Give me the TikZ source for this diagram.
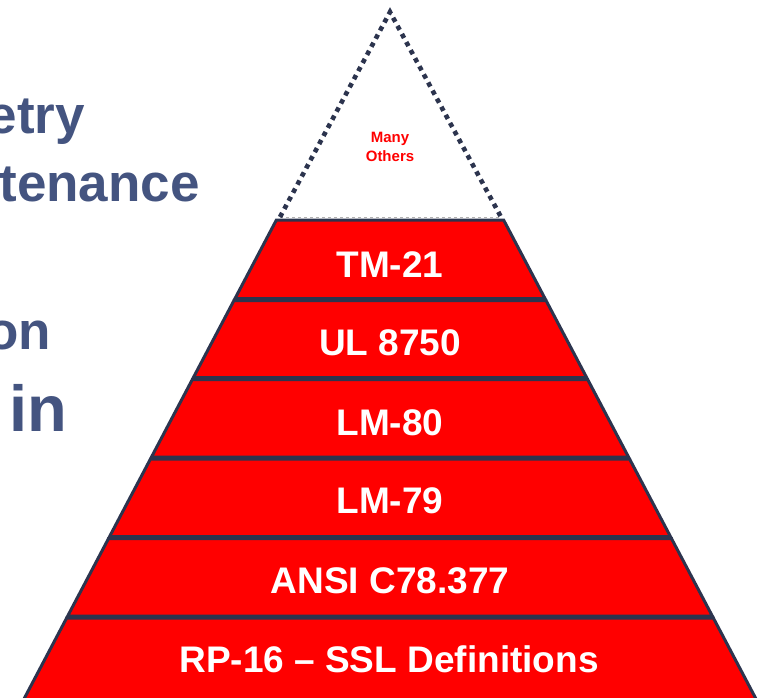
\documentclass[tikz,border=0pt]{standalone}
\usepackage{fontspec}
\setmainfont{Liberation Sans}
\definecolor{navy}{RGB}{44,52,78}
\definecolor{tierred}{RGB}{255,0,0}
\definecolor{slate}{RGB}{68,84,128}
\begin{document}
\begin{tikzpicture}[x=1pt,y=-1pt,
  tier/.style={fill=tierred, draw=navy, line width=3pt, line join=miter},
  tierlabel/.style={text=white, inner sep=0pt, anchor=base,
    font=\bfseries\fontsize{37}{37}\selectfont},
  toplabel/.style={text=tierred, inner sep=0pt, anchor=base,
    font=\bfseries\fontsize{15}{18}\selectfont},
  sidetext/.style={text=slate, inner sep=0pt, anchor=base east},
  dotted edge/.style={draw=navy, line width=4.6pt, line cap=butt,
    dash pattern=on 4.6pt off 4.6pt}]
\useasboundingbox (0,0) rectangle (759,697);
\clip (0,0) rectangle (759,697);

% heading words running in from the left
\node[sidetext, font=\bfseries\fontsize{53}{53}\selectfont] (w1) at (85,133) {etry};
\node[sidetext, font=\bfseries\fontsize{53}{53}\selectfont] (w2) at (200,201) {tenance};
\node[sidetext, font=\bfseries\fontsize{53}{53}\selectfont] (w3) at (51.5,349) {on};
\node[sidetext, font=\bfseries\fontsize{65}{65}\selectfont] (w4) at (67.5,431) {in};

% open apex of the pyramid
\coordinate (apex) at (390,12);
\coordinate (bl) at (280,217);
\coordinate (br) at (501,217);
\draw[gray!60, line width=0.8pt, dash pattern=on 3pt off 3pt] (bl) -- (br);
\draw[dotted edge] (bl) -- (apex) -- (br);
\node[toplabel] (many) at (390,142.5) {Many};
\node[toplabel] (others) at (390,161) {Others};

% stacked tiers: half width grows linearly downwards
\foreach \t/\b in {220/298.5, 300.5/377.5, 379.5/457, 459/536.5, 538.5/616, 618/702} {
  \pgfmathsetmacro\wt{365-0.527*(697-\t)}
  \pgfmathsetmacro\wb{365-0.527*(697-\b)}
  \draw[tier] (390-\wt,\t) -- (390+\wt,\t) -- (390+\wb,\b) -- (390-\wb,\b) -- cycle;
}

\node[tierlabel] (tm21) at (390,277) {TM-21};
\node[tierlabel] (ul8750) at (390,355.5) {UL 8750};
\node[tierlabel] (lm80) at (390,435) {LM-80};
\node[tierlabel] (lm79) at (390,513.5) {LM-79};
\node[tierlabel] (ansi) at (390,593) {ANSI C78.377};
\node[tierlabel] (rp16) at (389,672) {RP-16 -- SSL Definitions};
\end{tikzpicture}
\end{document}
